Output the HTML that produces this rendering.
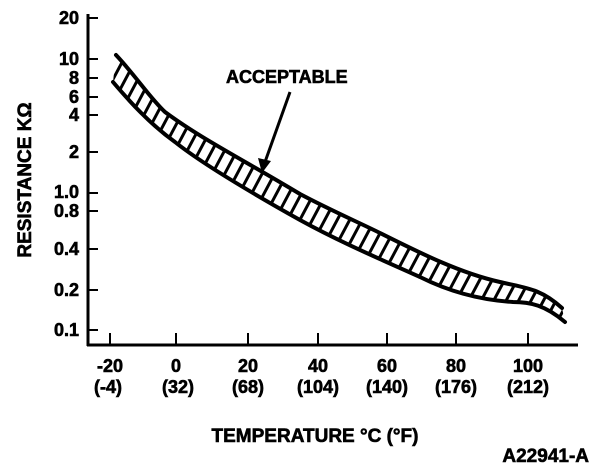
<!DOCTYPE html>
<html><head><style>
body{margin:0;background:#fff}
svg text{font-family:"Liberation Sans",Arial,sans-serif;font-weight:bold;fill:#000;stroke:#000;stroke-width:0.6}
</style></head><body>
<svg width="608" height="466" viewBox="0 0 608 466" xmlns="http://www.w3.org/2000/svg">
<defs>
<pattern id="h" width="11" height="40" patternUnits="userSpaceOnUse" patternTransform="rotate(28)">
<rect width="11" height="40" fill="#fff"/><line x1="5" y1="0" x2="5" y2="40" stroke="#000" stroke-width="3"/>
</pattern>
</defs>
<g stroke="#000" stroke-width="3" fill="none">
<line x1="88" y1="14" x2="88" y2="346"/>
<line x1="87" y1="345" x2="578" y2="345"/>
</g>
<g stroke="#000" stroke-width="2">
<line x1="88" y1="18" x2="98" y2="18"/><line x1="88" y1="59" x2="98" y2="59"/>
<line x1="88" y1="78" x2="98" y2="78"/><line x1="88" y1="97" x2="98" y2="97"/>
<line x1="88" y1="115" x2="98" y2="115"/><line x1="88" y1="152" x2="98" y2="152"/>
<line x1="88" y1="193" x2="98" y2="193"/><line x1="88" y1="211" x2="98" y2="211"/>
<line x1="88" y1="249" x2="98" y2="249"/><line x1="88" y1="290" x2="98" y2="290"/>
<line x1="88" y1="330" x2="98" y2="330"/>
<line x1="110" y1="345" x2="110" y2="333"/><line x1="176" y1="345" x2="176" y2="333"/>
<line x1="248" y1="345" x2="248" y2="333"/><line x1="318" y1="345" x2="318" y2="333"/>
<line x1="387" y1="345" x2="387" y2="333"/><line x1="456" y1="345" x2="456" y2="333"/>
<line x1="528" y1="345" x2="528" y2="333"/>
</g>
<path d="M116,55 C135,75 150,98 165,112 C200,138 240,158 300,194 C330,210 360,223 380,233 C420,253 460,273 500,282 C525,288 540,288 562,308 L565,322 C545,305 530,302 513,302 C480,300 450,292 420,277 C380,259 340,242 300,220 C250,192 200,162 175,142 C150,124 130,102 113,82 Z" fill="url(#h)" stroke="none"/>
<g fill="none" stroke="#000" stroke-width="4" stroke-linecap="round">
<path d="M116,55 C135,75 150,98 165,112 C200,138 240,158 300,194 C330,210 360,223 380,233 C420,253 460,273 500,282 C525,288 540,288 562,308"/>
<path d="M565,322 C545,305 530,302 513,302 C480,300 450,292 420,277 C380,259 340,242 300,220 C250,192 200,162 175,142 C150,124 130,102 113,82"/>
</g>
<line x1="290" y1="92" x2="265" y2="162" stroke="#000" stroke-width="3"/>
<polygon points="262,173 258,158 271,161" fill="#000"/>
<text x="226" y="83" font-size="18">ACCEPTABLE</text>
<g font-size="18" text-anchor="end">
<text x="79" y="24">20</text><text x="79" y="65">10</text><text x="79" y="84">8</text>
<text x="79" y="103">6</text><text x="79" y="121">4</text><text x="79" y="158">2</text>
<text x="79" y="198">1.0</text><text x="79" y="217">0.8</text><text x="79" y="255">0.4</text>
<text x="79" y="296">0.2</text><text x="79" y="336">0.1</text>
</g>
<text transform="translate(31,180) rotate(-90)" font-size="19" text-anchor="middle">RESISTANCE KΩ</text>
<g font-size="18" text-anchor="middle">
<text x="110" y="372">-20</text><text x="176" y="372">0</text><text x="248" y="372">20</text>
<text x="318" y="372">40</text><text x="387" y="372">60</text><text x="456" y="372">80</text><text x="528" y="372">100</text>
<text x="108" y="393">(-4)</text><text x="178" y="393">(32)</text><text x="248" y="393">(68)</text>
<text x="318" y="393">(104)</text><text x="387" y="393">(140)</text><text x="456" y="393">(176)</text><text x="528" y="393">(212)</text>
</g>
<text x="315" y="442" font-size="19" text-anchor="middle">TEMPERATURE °C (°F)</text>
<text x="589" y="462" font-size="19" text-anchor="end">A22941-A</text>
</svg>
</body></html>
